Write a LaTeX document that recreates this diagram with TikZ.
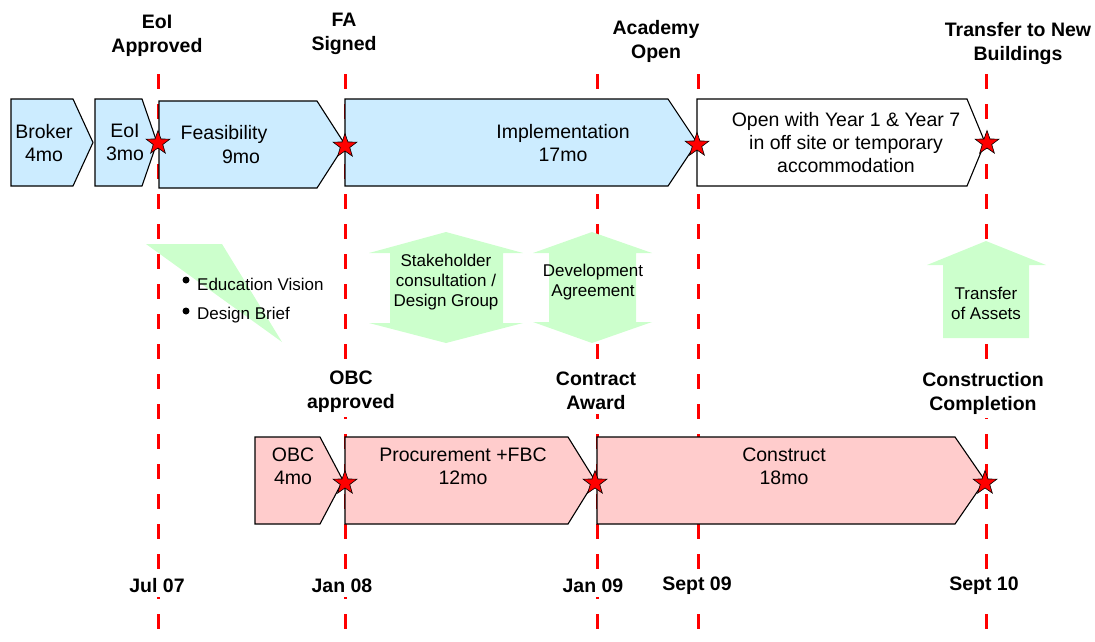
\documentclass[tikz,border=0pt]{standalone}
\usepackage{fontspec}
\setmainfont{Liberation Sans}
\usetikzlibrary{shapes.geometric}
\definecolor{boxblue}{HTML}{CCECFF}
\definecolor{boxpink}{HTML}{FFCCCC}
\definecolor{boxgreen}{HTML}{CCFFCC}
\tikzset{
  phase/.style={draw=black, line width=1.1pt, line join=miter},
  milestone/.style={star, star points=5, star point ratio=2.5, fill=red,
    draw=black, line width=0.6pt, minimum size=25pt, inner sep=0pt},
  dateline/.style={red, line width=3pt, dash pattern=on 15pt off 15pt},
  keydate/.style={font=\fontsize{19.5}{24}\selectfont\bfseries, align=center,
    fill=white, inner sep=4pt},
  phasetext/.style={font=\fontsize{19.5}{23}\selectfont, align=center},
  notetext/.style={font=\fontsize{17}{20}\selectfont, align=center},
  bullet/.style={circle, fill=black, inner sep=0pt, minimum size=7pt},
}

\begin{document}
\begin{tikzpicture}[x=1pt, y=-1pt]
      \useasboundingbox (0, 0) rectangle (1095, 641);

      % date lines
      \foreach \xx in {158, 345, 597, 698, 986}
        \draw[dateline] (\xx, 74) -- (\xx, 641);

      % green notes
      \fill[boxgreen] (146, 244) -- (222, 244) -- (282, 342) -- cycle;
      \fill[boxgreen] (446, 232) -- (523, 253) -- (503, 253) -- (503, 323)
        -- (523, 323) -- (446, 343) -- (369, 323) -- (390, 323) -- (390, 253)
        -- (369, 253) -- cycle;
      \fill[boxgreen] (592, 232) -- (652, 253) -- (636, 253) -- (636, 322)
        -- (652, 322) -- (592, 343) -- (533, 322) -- (549, 322) -- (549, 253)
        -- (533, 253) -- cycle;
      \fill[boxgreen] (986, 241) -- (1046, 265) -- (1029, 265) -- (1029, 338)
        -- (943, 338) -- (943, 265) -- (927, 265) -- cycle;

      % top row
      \draw[phase, fill=boxblue] (11, 99) -- (73, 99) -- (93, 142.5)
        -- (73, 186) -- (11, 186) -- cycle;
      \draw[phase, fill=boxblue] (95, 99) -- (142, 99) -- (157, 142.5)
        -- (142, 186) -- (95, 186) -- cycle;
      \draw[phase, fill=boxblue] (159, 101) -- (317, 101) -- (345, 144.5)
        -- (317, 188) -- (159, 188) -- cycle;
      \draw[phase, fill=boxblue] (345, 99) -- (668, 99) -- (697, 142.5)
        -- (668, 186) -- (345, 186) -- cycle;
      \draw[phase, fill=white] (697, 99) -- (967, 99) -- (985, 142.5)
        -- (967, 186) -- (697, 186) -- cycle;

      % bottom row
      \draw[phase, fill=boxpink] (255, 437) -- (320, 437) -- (343, 480.5)
        -- (320, 524) -- (255, 524) -- cycle;
      \draw[phase, fill=boxpink] (345, 437) -- (568, 437) -- (595, 480.5)
        -- (568, 524) -- (345, 524) -- cycle;
      \draw[phase, fill=boxpink] (597, 437) -- (955, 437) -- (985, 480.5)
        -- (955, 524) -- (597, 524) -- cycle;

      % milestones
      \node[milestone] (eoistar) at (158, 143) {};
      \node[milestone] (fastar) at (345, 146) {};
      \node[milestone] (openstar) at (697, 145) {};
      \node[milestone] (movestar) at (987, 143) {};
      \node[milestone] (obcstar) at (345, 483) {};
      \node[milestone] (awardstar) at (595, 483) {};
      \node[milestone] (donestar) at (985, 483) {};

      % phase texts
      \node[phasetext] (broker) at (44, 143) {Broker\\4mo};
      \node[phasetext] (eoi) at (125, 142) {EoI\\3mo};
      \node[phasetext] (feas) at (224, 134) {Feasibility};
      \node[phasetext] (feasmo) at (241, 157) {9mo};
      \node[phasetext] (impl) at (563, 143) {Implementation\\17mo};
      \node[phasetext] (temp) at (846, 143)
        {Open with Year 1 \& Year 7\\in off site or temporary\\accommodation};
      \node[phasetext] (obc) at (293, 466.5) {OBC\\4mo};
      \node[phasetext] (proc) at (463, 466.5) {Procurement +FBC\\12mo};
      \node[phasetext] (build) at (784, 466.5) {Construct\\18mo};

      % notes
      \node[bullet] (dot1) at (186, 280) {};
      \node[bullet] (dot2) at (186, 311) {};
      \node[notetext, anchor=west, inner sep=0pt] (vision) at (197, 284)
        {Education Vision};
      \node[notetext, anchor=west, inner sep=0pt] (brief) at (197, 315)
        {Design Brief};
      \node[notetext] (stake) at (446, 282)
        {Stakeholder\\consultation /\\Design Group};
      \node[notetext] (devagr) at (593, 282) {Development\\Agreement};
      \node[notetext] (assets) at (986, 303) {Transfer\\of Assets};

      % key dates
      \node[keydate] (eoiok) at (157, 36) {EoI\\Approved};
      \node[keydate] (fasign) at (344, 34) {FA\\Signed};
      \node[keydate] (acopen) at (656, 41) {Academy\\Open};
      \node[keydate] (newbld) at (1018, 43) {Transfer to New\\Buildings};
      \node[keydate] (obcok) at (351, 392) {OBC\\approved};
      \node[keydate] (award) at (596, 391) {Contract\\Award};
      \node[keydate] (compl) at (983, 393) {Construction\\Completion};

      % months
      \node[keydate] (jul07) at (157, 586) {Jul 07};
      \node[keydate] (jan08) at (342, 586) {Jan 08};
      \node[keydate] (jan09) at (593, 586) {Jan 09};
      \node[keydate] (sep09) at (697, 586) {Sept 09};
      \node[keydate] (sep10) at (984, 586) {Sept 10};
    \end{tikzpicture}
\end{document}
